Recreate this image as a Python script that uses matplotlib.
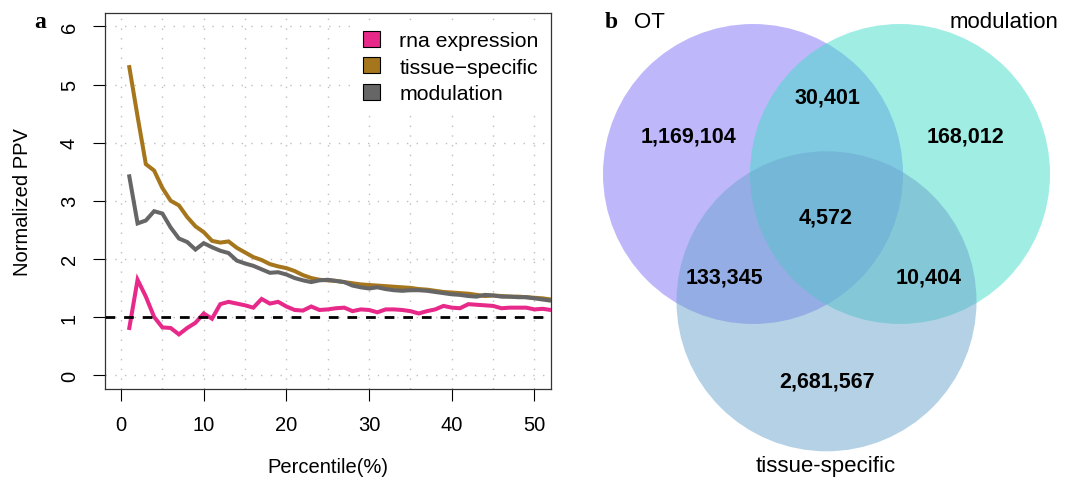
import matplotlib

matplotlib.use("Agg")
import matplotlib.pyplot as plt
import numpy as np
from matplotlib.patches import Circle, Patch

W, H = 1071, 485
plt.rcParams["font.family"] = ["Liberation Sans", "DejaVu Sans"]

# ---- panel a: normalized PPV by percentile ----
percentile = list(range(1, 54))
rna_expression = [0.81, 1.64, 1.35, 1.00, 0.82, 0.81, 0.70, 0.81, 0.90, 1.06,
                  0.97, 1.22, 1.26, 1.23, 1.20, 1.16, 1.31, 1.23, 1.26, 1.18,
                  1.12, 1.11, 1.18, 1.12, 1.13, 1.15, 1.16, 1.10, 1.13, 1.12,
                  1.08, 1.13, 1.13, 1.12, 1.10, 1.06, 1.10, 1.13, 1.19, 1.16,
                  1.15, 1.22, 1.21, 1.20, 1.19, 1.15, 1.16, 1.16, 1.16, 1.13,
                  1.14, 1.12, 1.12]
tissue_specific = [5.30, 4.45, 3.63, 3.52, 3.22, 3.00, 2.92, 2.72, 2.56, 2.46,
                   2.31, 2.28, 2.30, 2.19, 2.11, 2.03, 1.98, 1.91, 1.87, 1.84,
                   1.79, 1.72, 1.67, 1.64, 1.63, 1.62, 1.60, 1.58, 1.56, 1.55,
                   1.54, 1.53, 1.52, 1.51, 1.50, 1.48, 1.47, 1.45, 1.43, 1.42,
                   1.41, 1.40, 1.38, 1.36, 1.37, 1.36, 1.35, 1.35, 1.34, 1.33,
                   1.32, 1.30, 1.29]
modulation = [3.42, 2.61, 2.66, 2.82, 2.78, 2.54, 2.35, 2.29, 2.16, 2.27,
              2.20, 2.14, 2.10, 1.97, 1.92, 1.88, 1.82, 1.76, 1.77, 1.73,
              1.67, 1.63, 1.60, 1.63, 1.64, 1.62, 1.60, 1.54, 1.51, 1.49,
              1.51, 1.48, 1.46, 1.45, 1.46, 1.46, 1.45, 1.43, 1.41, 1.39,
              1.38, 1.36, 1.35, 1.38, 1.37, 1.35, 1.35, 1.34, 1.34, 1.32,
              1.30, 1.28, 1.27]
series_names = ["rna expression", "tissue\u2212specific", "modulation"]
series_colors = ["#E7298A", "#A6761D", "#666666"]

# ---- panel b: venn counts ----
set_names = ["OT", "modulation", "tissue-specific"]
set_colors = ["#7F71F7", "#41DDC9", "#6BA5CF"]
region_keys = ["100", "010", "001", "110", "101", "011", "111"]
region_counts = [1169104, 168012, 2681567, 30401, 133345, 10404, 4572]

fig = plt.figure(figsize=(W / 100, H / 100), dpi=100)

# left panel, placed by pixel box
ax = fig.add_axes([104.5 / W, 1 - 390 / H, (551 - 104.5) / W, (390 - 13.5) / H])
ys = [rna_expression, tissue_specific, modulation]
for vals, col in zip(ys, series_colors):
    ax.plot(percentile, vals, color=col, lw=2.9, solid_joinstyle="miter", zorder=3)
ax.axhline(1, color="black", lw=2.0, ls=(0, (3.5, 3.2)), zorder=4)

ax.set_xlim(-2, 52)
ax.set_ylim(-0.24, 6.24)
ax.set_xticks(np.arange(0, 51, 10))
ax.set_xticks(np.arange(0, 51, 5), minor=True)
ax.set_yticks(np.arange(0, 7, 1))
ax.set_yticklabels([str(v) for v in range(7)], rotation=90, va="center")
ax.tick_params(which="major", length=8.5, width=0.8, labelsize=14.5, pad=10)
ax.tick_params(which="minor", length=0)
ax.grid(True, which="both", color="#BEBEBE", lw=1.0, ls=(0, (1, 6)))
for s in ax.spines.values():
    s.set_linewidth(0.9)
    s.set_color("#333333")
ax.set_xlabel("Percentile(%)", fontsize=14.5)
ax.set_ylabel("Normalized PPV", fontsize=14.5)
ax.xaxis.set_label_coords(0.5, -0.207)
ax.xaxis.label.set_va("center")
ax.yaxis.set_label_coords(-0.183, 0.5)
ax.yaxis.label.set_va("center")

handles = [Patch(facecolor=c, edgecolor="black", lw=0.8) for c in series_colors]
leg = ax.legend(handles, series_names, loc="upper left", bbox_to_anchor=(0.565, 0.968),
                fontsize=15.3, frameon=True, facecolor="white", edgecolor="none",
                framealpha=1, fancybox=False, handlelength=0.8, handleheight=0.8,
                handletextpad=0.9, labelspacing=0.32, borderpad=0.3, borderaxespad=0)
leg.set_zorder(5)

fig.text(40 / W, 1 - 23 / H, "a", fontsize=17, fontweight="bold",
         family="Liberation Serif", ha="center", va="center")

# right panel: 3-set venn, axes in pixel units (1:1)
vx = fig.add_axes([560 / W, 0, (W - 560) / W, 1])
vx.set_xlim(560, W)
vx.set_ylim(H, 0)
vx.axis("off")

r = 150
side = 147
cx0, cy0 = 826.5, 175
centers = [(cx0 - side / 2, cy0), (cx0 + side / 2, cy0),
           (cx0, cy0 + side * np.sqrt(3) / 2)]
for (cx, cy), col in zip(centers, set_colors):
    vx.add_patch(Circle((cx, cy), r, facecolor=col, edgecolor="none", alpha=0.5))

# label anchors (pixels) for each venn region
label_pos = {"100": (688, 137), "010": (966, 137), "001": (827, 382),
             "110": (827, 98), "101": (724, 278), "011": (929, 278),
             "111": (826, 218)}
for key, n in zip(region_keys, region_counts):
    x, y = label_pos[key]
    vx.text(x, y, f"{n:,}", fontsize=15.5, fontweight="bold",
            ha="center", va="center")

fig.text(611 / W, 1 - 22 / H, "b", fontsize=17, fontweight="bold",
         family="Liberation Serif", ha="center", va="center")
fig.text(634 / W, 1 - 22 / H, set_names[0], fontsize=16, ha="left", va="center")
fig.text(1058 / W, 1 - 22 / H, set_names[1], fontsize=16, ha="right", va="center")
fig.text(826 / W, 1 - 467 / H, set_names[2], fontsize=16, ha="center", va="center")

fig.savefig("out.png", dpi=100)
